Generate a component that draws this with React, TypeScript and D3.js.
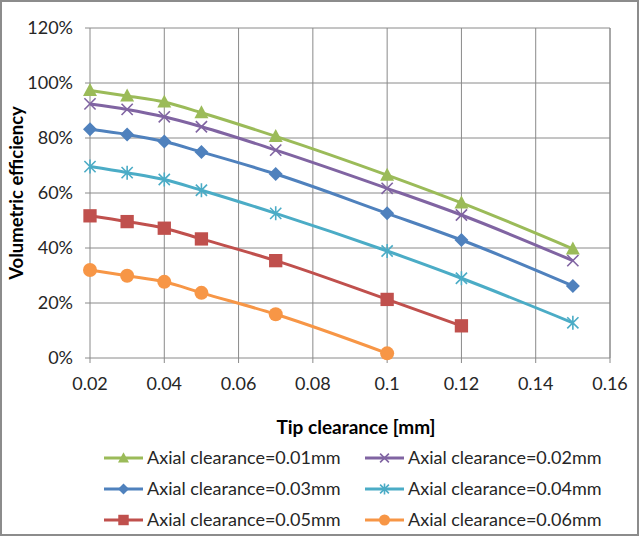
import React from "react";
import * as d3 from "d3";

const xValues = [0.02, 0.03, 0.04, 0.05, 0.07, 0.1, 0.12, 0.15];
const seriesNames = [
  "Axial clearance=0.01mm",
  "Axial clearance=0.02mm",
  "Axial clearance=0.03mm",
  "Axial clearance=0.04mm",
  "Axial clearance=0.05mm",
  "Axial clearance=0.06mm",
];
const s001 = [97.3, 95.3, 93.1, 89.2, 80.6, 66.5, 56.4, 39.7];
const s002 = [92.4, 90.4, 87.7, 84.1, 75.6, 61.7, 52.0, 35.4];
const s003 = [83.2, 81.3, 78.7, 74.9, 66.9, 52.6, 42.9, 26.2];
const s004 = [69.6, 67.4, 64.9, 61.0, 52.6, 38.9, 29.0, 12.8];
const s005 = [51.7, 49.6, 47.2, 43.3, 35.4, 21.3, 11.7];
const s006 = [32.0, 29.9, 27.7, 23.7, 15.9, 1.7];
const seriesValues = [s001, s002, s003, s004, s005, s006];
const colors = ["#9BBB59", "#8064A2", "#4F81BD", "#4BACC6", "#C0504D", "#F79646"];
const markers = ["triangle", "x", "diamond", "star", "square", "circle"];
const xTicks = [0.02, 0.04, 0.06, 0.08, 0.1, 0.12, 0.14, 0.16];
const yTicks = [0, 20, 40, 60, 80, 100, 120];

const FONT = "Lato, 'Open Sans', sans-serif";

function Marker({ type, x, y, color, s }: { type: string; x: number; y: number; color: string; s: number }) {
  const h = s / 2;
  if (type === "triangle") {
    return <path d={`M${x},${y - h * 1.05}L${x + h},${y + h * 0.8}L${x - h},${y + h * 0.8}Z`} fill={color} />;
  }
  if (type === "diamond") {
    return <path d={`M${x},${y - h}L${x + h},${y}L${x},${y + h}L${x - h},${y}Z`} fill={color} />;
  }
  if (type === "square") {
    return <rect x={x - h * 0.95} y={y - h * 0.95} width={h * 1.9} height={h * 1.9} fill={color} />;
  }
  if (type === "circle") {
    return <circle cx={x} cy={y} r={h} fill={color} />;
  }
  if (type === "x") {
    const k = h * 0.8;
    return (
      <path d={`M${x - k},${y - k}L${x + k},${y + k}M${x - k},${y + k}L${x + k},${y - k}`} stroke={color} strokeWidth={1.6} />
    );
  }
  const k = h * 0.8;
  return (
    <path
      d={`M${x - k},${y - k}L${x + k},${y + k}M${x - k},${y + k}L${x + k},${y - k}M${x},${y - h}L${x},${y + h}`}
      stroke={color}
      strokeWidth={1.6}
    />
  );
}

export default function App() {
  const W = 640;
  const H = 537;
  const left = 90;
  const right = 610;
  const top = 28;
  const bottom = 358;
  const x = d3.scaleLinear().domain([0.02, 0.16]).range([left, right]);
  const y = d3.scaleLinear().domain([0, 120]).range([bottom, top]);
  const line = d3
    .line<[number, number]>()
    .x((d) => x(d[0]))
    .y((d) => y(d[1]))
    .curve(d3.curveMonotoneX);

  const legendRows = [458, 489, 520];
  const legendCols = [104, 365];

  return (
    <svg width={W} height={H} style={{ position: "absolute", left: 0, top: 0 }} fontFamily={FONT}>
      <rect x={0} y={0} width={W} height={H} fill="#fff" />
      <rect x={1} y={1} width={W - 3} height={H - 3} fill="none" stroke="#8c8c8c" strokeWidth={2} />
      {yTicks.map((t) => (
        <line key={"gy" + t} x1={left} x2={right} y1={y(t)} y2={y(t)} stroke="#8a8a8a" strokeWidth={1} />
      ))}
      {xTicks.map((t) => (
        <line key={"gx" + t} x1={x(t)} x2={x(t)} y1={top} y2={bottom} stroke="#8a8a8a" strokeWidth={1} />
      ))}
      <line x1={right} x2={right} y1={top} y2={bottom} stroke="#8a8a8a" strokeWidth={1} />
      {xTicks.map((t) => (
        <line key={"tx" + t} x1={x(t)} x2={x(t)} y1={bottom} y2={bottom + 5} stroke="#8a8a8a" strokeWidth={1} />
      ))}
      {yTicks.map((t) => (
        <line key={"ty" + t} x1={left - 5} x2={left} y1={y(t)} y2={y(t)} stroke="#8a8a8a" strokeWidth={1} />
      ))}
      {yTicks.map((t) => (
        <text key={"ly" + t} x={73} y={y(t)} dy="0.35em" textAnchor="end" fontSize={18} fill="#262626">
          {t + "%"}
        </text>
      ))}
      {xTicks.map((t) => (
        <text key={"lx" + t} x={x(t)} y={384} dy="0.35em" textAnchor="middle" fontSize={18} fill="#262626">
          {d3.format("~g")(t)}
        </text>
      ))}
      <text x={356} y={427} dy="0.35em" textAnchor="middle" fontSize={19} fontWeight="bold" fill="#000">
        Tip clearance [mm]
      </text>
      <text
        transform={`translate(17,193) rotate(-90)`}
        dy="0.35em"
        textAnchor="middle"
        fontSize={18.5}
        fontWeight="bold"
        fill="#000"
      >
        Volumetric efficiency
      </text>
      {seriesValues.map((vals, i) => {
        const pts = vals.map((v, j) => [xValues[j], v] as [number, number]);
        return (
          <g key={"s" + i}>
            <path d={line(pts) || ""} fill="none" stroke={colors[i]} strokeWidth={3} />
            {pts.map((p, j) => (
              <Marker key={j} type={markers[i]} x={x(p[0])} y={y(p[1])} color={colors[i]} s={14} />
            ))}
          </g>
        );
      })}
      {seriesNames.map((name, i) => {
        const lx = legendCols[i % 2];
        const ly = legendRows[Math.floor(i / 2)];
        return (
          <g key={"lg" + i}>
            <line x1={lx} x2={lx + 39} y1={ly} y2={ly} stroke={colors[i]} strokeWidth={3} />
            <Marker type={markers[i]} x={lx + 19.5} y={ly} color={colors[i]} s={11} />
            <text x={lx + 43} y={ly} dy="0.35em" fontSize={18} fill="#262626">
              {name}
            </text>
          </g>
        );
      })}
    </svg>
  );
}
